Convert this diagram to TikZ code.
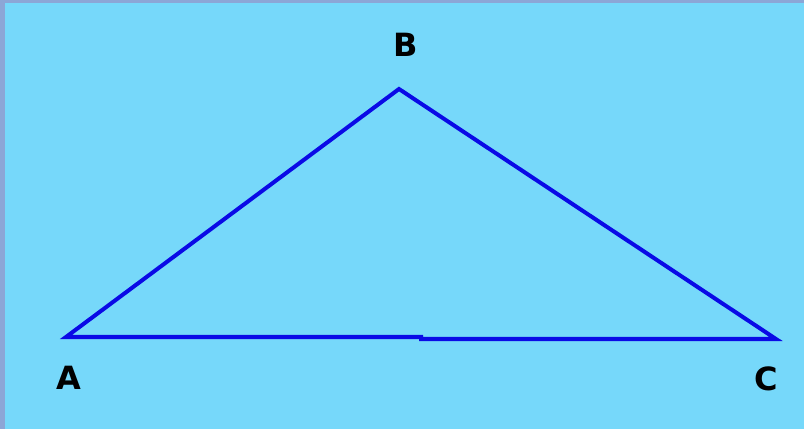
\documentclass[tikz,border=0pt]{standalone}
\usepackage{fontspec}
\setmainfont{DejaVu Sans}
\definecolor{bgblue}{HTML}{76D8FA}
\definecolor{edgeblue}{HTML}{8CA6D6}
\definecolor{lineblue}{HTML}{0A0AE6}
\tikzset{
  side/.style={draw=lineblue, line width=4pt, line join=miter, line cap=round},
  vlabel/.style={font=\fontsize{32}{32}\selectfont\bfseries, text=black, inner sep=0pt}
}
\begin{document}
\begin{tikzpicture}[x=1pt,y=1pt]
\useasboundingbox (0,0) rectangle (804,429);
\fill[edgeblue] (0,0) rectangle (804,429);
\fill[bgblue] (5,0) rectangle (804,426);
\coordinate (A) at (66,92);
\coordinate (B) at (399,340);
\coordinate (C) at (776,90);
\coordinate (M) at (421,92);
\coordinate (M2) at (421,90);
\draw[side] (A) -- (B) -- (C) -- (M2) -- (M) -- cycle;
\node[vlabel] (lA) at (69,51) {A};
\node[vlabel] (lB) at (406,384) {B};
\node[vlabel] (lC) at (766,50) {C};
\end{tikzpicture}
\end{document}
